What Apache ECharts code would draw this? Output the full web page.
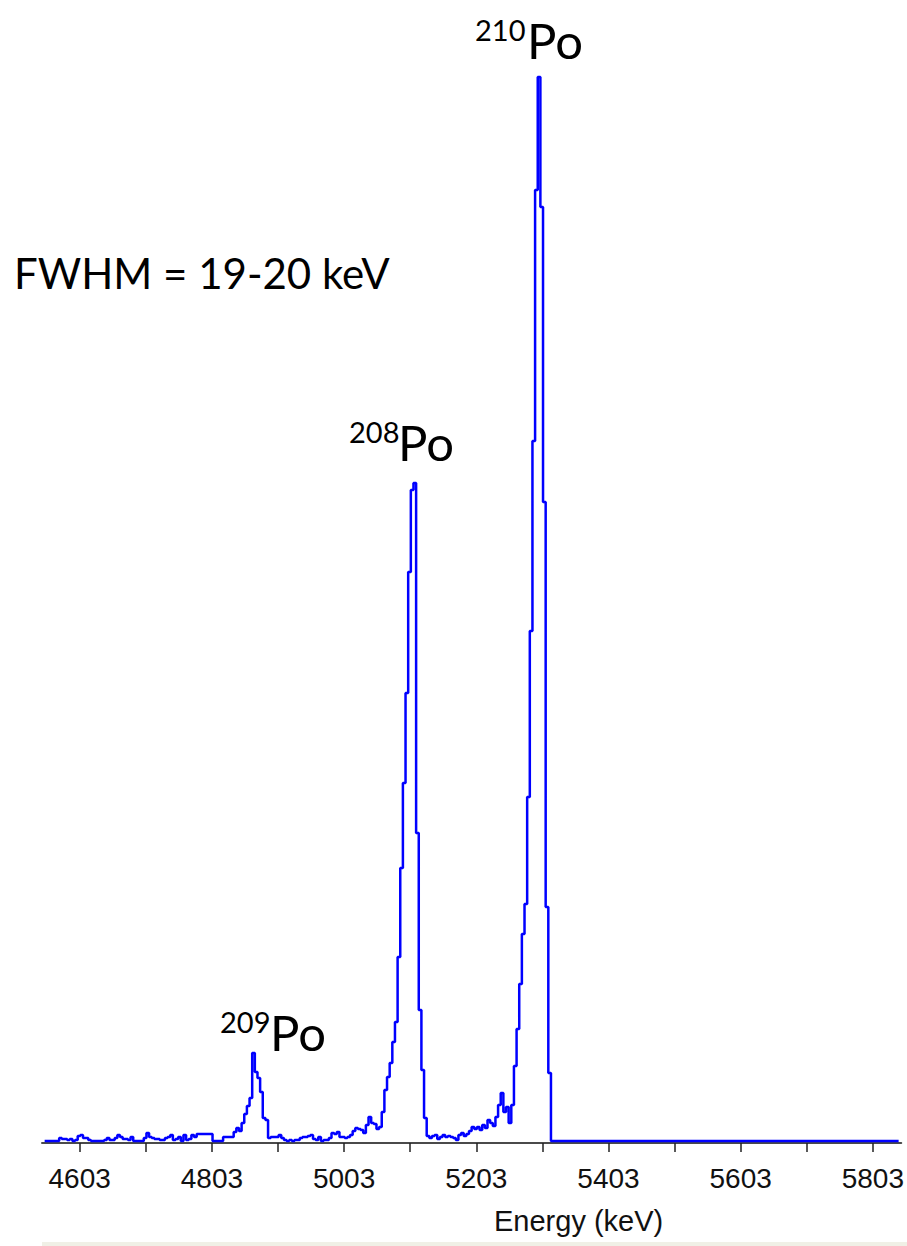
<!DOCTYPE html>
<html>
<head>
<meta charset="utf-8">
<script src="https://cdn.jsdelivr.net/npm/echarts@6/dist/echarts.min.js"></script>
<style>
  html, body { margin: 0; padding: 0; background: #ffffff; }
  #chart { width: 907px; height: 1246px; }
</style>
</head>
<body>
<div id="chart"></div>
<script>
// Channel calibration (keV): first channel centre and channel width
const CHANNEL_START = 4550;
const CHANNEL_WIDTH = 4;

// Counts per channel from the first channel up to just past the 210Po peak
const counts = [
  0, 0, 0, 0, 0, 0, 3, 2, 2, 1,
  2, 0, 1, 5, 6, 3, 3, 1, 0, 0,
  0, 0, 0, 1, 3, 1, 1, 3, 6, 4,
  2, 2, 1, 4, 0, 0, 0, 0, 3, 8,
  4, 3, 2, 2, 1, 1, 3, 4, 6, 1,
  2, 4, 0, 6, 1, 2, 6, 4, 7, 7,
  7, 7, 7, 7, 0, 0, 0, 0, 4, 4,
  4, 4, 9, 13, 10, 18, 27, 35, 43, 88,
  69, 63, 49, 23, 21, 3, 4, 4, 4, 6,
  3, 1, 0, 1, 0, 1, 1, 3, 4, 4,
  5, 6, 2, 1, 4, 0, 1, 1, 3, 8,
  7, 9, 4, 4, 3, 4, 6, 10, 13, 12,
  11, 8, 16, 24, 18, 17, 12, 14, 29, 51,
  64, 78, 99, 119, 184, 273, 358, 448, 569, 651,
  658, 308, 131, 71, 23, 5, 3, 5, 6, 2,
  4, 6, 4, 5, 4, 3, 1, 6, 8, 5,
  7, 10, 14, 12, 14, 11, 16, 13, 21, 18,
  15, 24, 36, 48, 29, 34, 18, 36, 75, 112,
  157, 207, 237, 344, 510, 700, 951, 1064, 934, 639,
  234, 68, 0
];
// Counts per channel above the 210Po peak (empty region)
const countsAbove = [
  0, 0, 0, 0, 0, 0, 0, 0, 0, 0, 0, 0, 0, 0, 0, 0, 0, 0, 0, 0,
  0, 0, 0, 0, 0, 0, 0, 0, 0, 0, 0, 0, 0, 0, 0, 0, 0, 0, 0, 0,
  0, 0, 0, 0, 0, 0, 0, 0, 0, 0, 0, 0, 0, 0, 0, 0, 0, 0, 0, 0,
  0, 0, 0, 0, 0, 0, 0, 0, 0, 0, 0, 0, 0, 0, 0, 0, 0, 0, 0, 0,
  0, 0, 0, 0, 0, 0, 0, 0, 0, 0, 0, 0, 0, 0, 0, 0, 0, 0, 0, 0,
  0, 0, 0, 0, 0, 0, 0, 0, 0, 0, 0, 0, 0, 0, 0, 0, 0, 0, 0, 0,
  0, 0, 0, 0, 0, 0, 0, 0, 0, 0, 0
];

const tickValues = [4603, 4703, 4803, 4903, 5003, 5103, 5203, 5303, 5403, 5503, 5603, 5703, 5803];
const labelValues = [4603, 4803, 5003, 5203, 5403, 5603, 5803];

const allCounts = counts.concat(countsAbove);
const seriesData = allCounts.map((c, i) => [CHANNEL_START + i * CHANNEL_WIDTH, c]);

const chart = echarts.init(document.getElementById('chart'), null, { renderer: 'svg' });

const option = {
  animation: false,
  backgroundColor: '#ffffff',
  grid: { left: 42, right: 0, top: 41, bottom: 103, containLabel: false },
  xAxis: {
    type: 'value',
    min: 4546,
    max: 5846,
    axisLine: { show: true, onZero: false, lineStyle: { color: '#4a4a4a', width: 2 } },
    axisTick: { show: true, customValues: tickValues, length: 9, inside: false, lineStyle: { color: '#222', width: 1.5 } },
    axisLabel: {
      show: true,
      customValues: labelValues,
      margin: 21,
      color: '#111',
      fontFamily: 'Liberation Sans',
      fontSize: 28,
      formatter: v => String(v)
    },
    splitLine: { show: false }
  },
  yAxis: {
    type: 'value',
    min: -2,
    max: 1100,
    show: false,
    splitLine: { show: false }
  },
  series: [{
    type: 'line',
    step: 'middle',
    data: seriesData,
    showSymbol: false,
    symbol: 'none',
    lineStyle: { color: '#0000ff', width: 2.5 },
    z: 5
  }],
  graphic: [
    { type: 'rect', left: 42, top: 1242, shape: { width: 865, height: 4 }, style: { fill: '#f0f0e6' } },
    { type: 'text', left: 14, top: 252, style: { text: 'FWHM = 19-20 keV', font: '42px Lato', fill: '#000' } },
    { type: 'text', left: 475, top: 15, style: { text: '210', font: '29px Lato', fill: '#000' } },
    { type: 'text', left: 527, top: 15, style: { text: 'Po', font: '49px Lato', fill: '#000' } },
    { type: 'text', left: 349, top: 417, style: { text: '208', font: '29px Lato', fill: '#000' } },
    { type: 'text', left: 398, top: 417, style: { text: 'Po', font: '49px Lato', fill: '#000' } },
    { type: 'text', left: 220, top: 1007, style: { text: '209', font: '29px Lato', fill: '#000' } },
    { type: 'text', left: 270, top: 1007, style: { text: 'Po', font: '49px Lato', fill: '#000' } },
    { type: 'text', left: 494, top: 1206, style: { text: 'Energy (keV)', font: '29px Liberation Sans', fill: '#111' } }
  ]
};

chart.setOption(option);
</script>
</body>
</html>
